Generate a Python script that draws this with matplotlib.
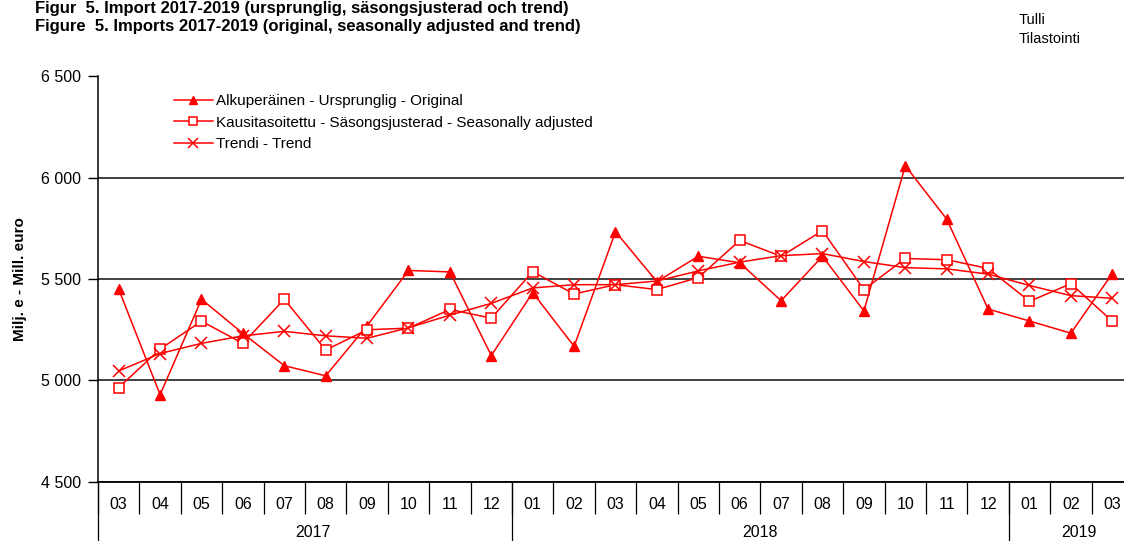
import numpy as np
import matplotlib.pyplot as plt
from matplotlib.ticker import FuncFormatter, FixedLocator
import matplotlib.transforms as mtransforms

plt.rcParams['font.family'] = ['Liberation Sans', 'DejaVu Sans']

months = ["03", "04", "05", "06", "07", "08", "09", "10", "11", "12",
          "01", "02", "03", "04", "05", "06", "07", "08", "09", "10", "11", "12",
          "01", "02", "03"]
years = ["2017", "2018", "2019"]
year_pos = [4.7, 15.5, 23.2]
year_breaks = [9.5, 21.5]

original = [5450, 4930, 5400, 5232, 5073, 5023, 5270, 5542, 5535, 5123,
            5433, 5168, 5733, 5487, 5612, 5580, 5393, 5612, 5343, 6058, 5795, 5352,
            5293, 5233, 5527]
seas_adj = [4965, 5155, 5292, 5183, 5400, 5150, 5250, 5258, 5350, 5307,
            5536, 5426, 5472, 5448, 5507, 5690, 5612, 5738, 5448, 5601, 5595, 5552,
            5390, 5477, 5292]
trend = [5047, 5133, 5183, 5220, 5242, 5220, 5208, 5260, 5322, 5380,
         5456, 5472, 5472, 5490, 5540, 5583, 5615, 5625, 5586, 5556, 5550, 5524,
         5468, 5418, 5405]

x = np.arange(len(months))

fig = plt.figure(figsize=(11.24, 5.41), dpi=100)
ax = fig.add_axes([98 / 1124, 59 / 541, 1035 / 1124, 406 / 541])

red = "#ff0000"
ax.plot(x, original, color=red, lw=1.1, marker="^", ms=7, mfc=red, mec=red,
        label="Alkuperäinen - Ursprunglig - Original", zorder=3)
ax.plot(x, seas_adj, color=red, lw=1.1, marker="s", ms=7.5, mfc="white", mec=red, mew=1.1,
        label="Kausitasoitettu - Säsongsjusterad - Seasonally adjusted", zorder=4)
ax.plot(x, trend, color=red, lw=1.1, marker="x", ms=9, mec=red, mew=1.1,
        label="Trendi - Trend", zorder=5)

ax.set_xlim(-0.5, len(months) - 0.5)
ax.set_ylim(4500, 6500)
ax.set_yticks([4500, 5000, 5500, 6000, 6500])
ax.yaxis.set_major_formatter(FuncFormatter(lambda v, p: f"{v:,.0f}".replace(",", " ")))
ax.tick_params(axis="y", direction="out", length=7, width=1, labelsize=11.5, pad=5)

ax.yaxis.grid(True, color="#333333", lw=1.3)
ax.get_ygridlines()[-1].set_visible(False)
ax.set_axisbelow(True)

ax.set_xticks(x)
ax.set_xticklabels(months, fontsize=11.5)
ax.xaxis.set_minor_locator(FixedLocator(np.arange(-0.5, len(months), 1.0)))
ax.tick_params(axis="x", which="major", length=0, pad=11)
ax.tick_params(axis="x", which="minor", direction="out", length=23, width=0.9)

for s in ["top", "right"]:
    ax.spines[s].set_visible(False)
ax.spines["left"].set_linewidth(1.1)
ax.spines["bottom"].set_linewidth(1.3)

trans = mtransforms.blended_transform_factory(ax.transData, ax.transAxes)
for b in [-0.5] + year_breaks:
    ax.plot([b, b], [0, -0.16], transform=trans, color="black", lw=0.9, clip_on=False)
for yr, p in zip(years, year_pos):
    ax.text(p, -0.125, yr, transform=trans, ha="center", va="center", fontsize=11.5)

ax.set_ylabel("Milj. e - Mill. euro", fontsize=11, fontweight="bold")
ax.yaxis.set_label_coords(-0.069, 0.5)

ax.legend(loc="upper left", bbox_to_anchor=(0.0734, 0.955), frameon=False, fontsize=11,
          handlelength=2.55, handletextpad=0.2, labelspacing=0.48, markerscale=0.75,
          borderaxespad=0, borderpad=0)

fig.text(35 / 1124, 1 - 8 / 541, "Figur  5. Import 2017-2019 (ursprunglig, säsongsjusterad och trend)",
         fontsize=12, fontweight="bold", va="center")
fig.text(35 / 1124, 1 - 26 / 541, "Figure  5. Imports 2017-2019 (original, seasonally adjusted and trend)",
         fontsize=12, fontweight="bold", va="center")
fig.text(1019 / 1124, 1 - 20 / 541, "Tulli", fontsize=10.5, va="center")
fig.text(1019 / 1124, 1 - 39 / 541, "Tilastointi", fontsize=10.5, va="center")

fig.savefig("out.png", dpi=100)
